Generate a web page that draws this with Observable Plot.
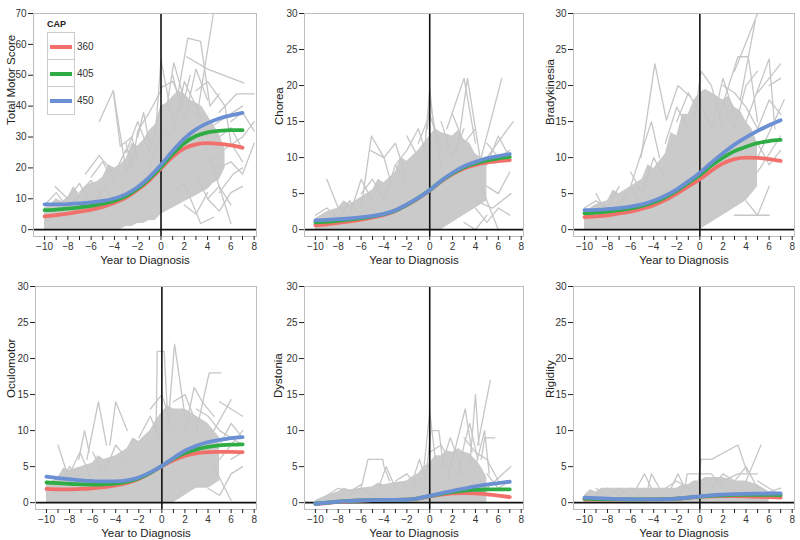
<!DOCTYPE html>
<html><head><meta charset="utf-8">
<script src="https://cdn.jsdelivr.net/npm/d3@7"></script>
<script src="https://cdn.jsdelivr.net/npm/@observablehq/plot@0.6"></script>
<style>
body{margin:0;background:#fff;}
#wrap{position:relative;width:800px;height:540px;overflow:hidden;font-family:"Liberation Sans",Arial,sans-serif;}
.panel{position:absolute;}
#legTitle{position:absolute;left:47px;top:19px;font-weight:bold;font-size:9px;color:#222;}
#legend{position:absolute;left:47px;top:32px;width:28px;height:83px;border:1px solid #ccc;background:#fff;box-sizing:border-box;}
.legcell{position:absolute;left:0;width:26px;height:27px;border-bottom:1px solid #ccc;box-sizing:border-box;}
.legcell:last-child{border-bottom:none;}
.legline{position:absolute;left:2px;top:12px;width:22px;height:4px;}
.leglab{position:absolute;left:77px;font-size:10px;color:#333;}
</style></head>
<body><div id="wrap"></div>
<script>
// ---------- data ----------
const capLevels = ["360", "405", "450"];
const capColors = ["#f2706b", "#2fad44", "#6a8fd3"];
const fitYears = [-10,-9,-8,-7,-6,-5,-4,-3,-2,-1,0,1,2,3,4,5,6,7];

const tms360 = [4.3,4.7,5.2,5.8,6.5,7.4,8.7,10.4,12.9,16.0,19.8,23.6,26.3,27.6,28.0,27.8,27.3,26.6];
const tms405 = [6.3,6.5,6.8,7.2,7.7,8.4,9.4,10.9,13.3,16.5,20.3,24.5,28.0,30.3,31.5,32.0,32.2,32.2];
const tms450 = [8.2,8.2,8.3,8.5,8.8,9.3,10.1,11.5,13.8,17.0,21.0,25.5,29.5,32.5,34.5,36.0,37.0,37.8];

const chorea360 = [0.6,0.75,0.95,1.15,1.4,1.7,2.05,2.6,3.4,4.35,5.45,6.7,7.7,8.5,9.0,9.3,9.5,9.65];
const chorea405 = [1.0,1.1,1.25,1.4,1.6,1.85,2.15,2.65,3.45,4.4,5.5,6.75,7.8,8.65,9.2,9.6,9.9,10.1];
const chorea450 = [1.3,1.35,1.45,1.55,1.7,1.9,2.2,2.7,3.5,4.4,5.5,6.8,7.9,8.8,9.4,9.9,10.2,10.5];

const brady360 = [1.75,1.85,2.0,2.25,2.5,2.9,3.4,4.1,5.0,6.0,7.0,8.2,9.2,9.8,10.0,9.95,9.8,9.55];
const brady405 = [2.25,2.35,2.5,2.7,2.95,3.3,3.8,4.5,5.4,6.5,7.6,8.9,10.0,10.9,11.5,12.0,12.3,12.45];
const brady450 = [2.7,2.75,2.85,3.0,3.2,3.5,4.0,4.7,5.6,6.7,7.9,9.3,10.6,11.8,12.8,13.7,14.5,15.2];

const ocul360 = [1.9,1.85,1.85,1.9,2.0,2.15,2.4,2.75,3.3,4.1,5.05,5.9,6.5,6.85,7.0,7.05,7.05,7.0];
const ocul405 = [2.8,2.7,2.6,2.55,2.5,2.55,2.65,2.9,3.4,4.15,5.1,6.1,6.9,7.4,7.75,7.95,8.05,8.1];
const ocul450 = [3.6,3.4,3.25,3.1,3.0,2.95,2.95,3.1,3.5,4.2,5.1,6.2,7.2,7.9,8.4,8.7,8.95,9.1];

const dyst360 = [-0.2,-0.05,0.12,0.23,0.3,0.35,0.37,0.38,0.4,0.58,0.88,1.12,1.28,1.33,1.28,1.15,0.98,0.78];
const dyst405 = [-0.15,0.0,0.15,0.25,0.32,0.36,0.38,0.38,0.4,0.6,0.92,1.22,1.48,1.66,1.78,1.83,1.85,1.85];
const dyst450 = [-0.15,0.0,0.15,0.25,0.32,0.36,0.38,0.38,0.4,0.6,0.95,1.3,1.65,1.95,2.25,2.5,2.7,2.9];

const rigid360 = [0.45,0.43,0.42,0.42,0.42,0.43,0.45,0.48,0.55,0.67,0.8,0.88,0.9,0.9,0.87,0.82,0.77,0.7];
const rigid405 = [0.55,0.5,0.47,0.45,0.44,0.44,0.45,0.48,0.55,0.68,0.84,0.96,1.03,1.07,1.08,1.08,1.07,1.05];
const rigid450 = [0.7,0.62,0.55,0.5,0.47,0.45,0.45,0.48,0.55,0.7,0.88,1.02,1.12,1.18,1.22,1.25,1.27,1.28];

// dense spaghetti region: [year, low, high]
const tmsBand = [[-10,0,7],[-9.5,0,8],[-9,0,10],[-8.5,0,9],[-8,0,10.5],[-7.5,0,14],[-7,0,11.5],[-6.5,0,14],[-6,0,15],[-5.5,0,15.5],[-5,0,17],[-4.5,0,21],[-4,0,20],[-3.5,0,21],[-3,1,23],[-2.5,1,28],[-2,2,27],[-1.5,2,29],[-1,3,32],[-0.5,3,34],[0,5,40],[0.5,6,41],[1,7,43],[1.5,8,45],[2,9,44],[2.5,10,42],[3,11,41],[3.5,12,40],[4,13,37],[4.5,15,34],[5,16,31],[5.5,20,26]];
const choreaBand = [[-10,0,1.5],[-9,0,2.5],[-8,0,3],[-7.5,0,4],[-7,0,3.5],[-6,0,4.5],[-5,0,5.5],[-4.5,0,7],[-4,0,6.5],[-3,0,8],[-2.5,0,10],[-2,0,9.5],[-1,0,11],[-0.5,0,12],[0,0,13],[0.5,0,14],[1,0,13.5],[2,1,13],[2.5,1.5,13.8],[3,2,12.5],[3.5,2.5,12],[4,3,10.5],[4.5,3.5,10],[5,4,9]];
const bradyBand = [[-10,0,2.5],[-9,0,3.5],[-8,0,4],[-7.5,0,5.5],[-7,0,5],[-6,0,6],[-5,0,7],[-4.5,0,9],[-4,0,8.5],[-3,0,10.5],[-2.5,0,13.5],[-2,0,13],[-1.5,0,16],[-1,0,16],[-0.5,0,18],[0,0,19],[0.5,0.5,19.5],[1,1,19],[2,2,18],[2.5,2.5,18.5],[3,3,17],[3.5,3.5,16.5],[4,4,15],[4.5,5,14],[5,6,12]];
const oculBand = [[-10,0,2.5],[-9,0,3.5],[-8.5,0,4.8],[-8,0,4.5],[-7,0,5],[-6,0,5.5],[-5.5,0,6.5],[-5,0,6],[-4,0,6.5],[-3,0,7.5],[-2.5,0,9],[-2,0,8.5],[-1,0,10],[-0.5,0,11.5],[0,0,12.5],[0.5,0,13.5],[1,0,13],[2,1,13],[2.5,1.5,12.5],[3,2,12],[4,2,11],[4.5,2.5,10],[5,3,9]];
const dystBand = [[-10,0,0.3],[-9,0,1],[-8,0,1.5],[-7.5,0,2],[-7,0,1.8],[-6,0,2],[-5,0,2.2],[-4.5,0,2.7],[-4,0,2.5],[-3,0,2.8],[-2,0,3],[-1.5,0,3.6],[-1,0,4],[-0.5,0,5],[0,0,5.5],[0.5,0,6.5],[1,0,6.5],[1.5,0,7.2],[2,0,7],[2.5,0,7.5],[3,0,7],[3.5,0,6.8],[4,0,6],[4.5,0,5],[5,0,3.5]];
const rigidBand = [[-10,0,1],[-9.5,0,1.8],[-9,0,1.5],[-8.5,0,2],[-8,0,2],[-7,0,2],[-6,0,2],[-5,0,2],[-4,0,2],[-3,0,2],[-2,0,2],[-1.5,0,2.5],[-1,0,2.5],[-0.5,0,3],[0,0,3],[0.5,0,3.5],[1,0,3.5],[2,0,3.5],[3,0,3],[4,0,3],[5,0,2.5],[6,0,1.5]];

// individual subject trajectories: [year, score] pairs
const tmsTraces = [
 [[-5.3,35],[-4.1,45],[-3,19],[-2.4,24]],
 [[-4.1,45],[-3.5,27],[-2.5,30],[-2,22]],
 [[-9.1,14],[-8,10],[-7,15],[-6,8],[-5,12]],
 [[-6.5,18],[-5.3,24],[-4,18],[-3,26]],
 [[-8,3],[-7,8],[-6,5],[-5,14],[-4,9]],
 [[3.1,37],[4.5,70]],
 [[1.5,45],[2.3,62],[3.4,61],[4.2,40],[5,44]],
 [[-0.5,30],[0,55],[1,35],[1.5,40]],
 [[0.5,40],[1.1,54],[2,42],[2.5,50]],
 [[2.2,56],[4,52],[7.1,47.5]],
 [[5,38],[6.5,44],[8,44]],
 [[3.5,30],[4.5,20],[6,2]],
 [[1,12],[2,15],[3.4,2],[4.5,4]],
 [[4,22],[5,25],[7,30],[8,35]],
 [[3,45],[4,48],[5.5,40],[6,28],[7,22]],
 [[-2,30],[-1.5,38],[-1,28]],
 [[-3,25],[-2,35],[-1,25],[0,40]],
 [[-1,20],[0,32],[1,30],[2,48],[3,40],[4,30]],
 [[3,30],[5,35],[7,40]],
 [[5,12],[6.2,18],[7,20]],
 [[4,10],[5,6],[6,12],[7,14]],
 [[1,50],[2,35],[3,52],[4,42]],
 [[-7,12],[-6,16],[-5,10]],
 [[-10,2],[-9,6],[-8,4]],
 [[5,30],[6,33],[7,26]],
 [[-10,8],[-9,12],[-8,7],[-7,11]],
 [[-6,17],[-5,22],[-4,15]],
 [[-3,28],[-2.5,20],[-2,32],[-1,38],[0,45]],
 [[0,46],[1,48],[2,40]],
 [[3,18],[4,10],[5,14],[6,8]],
 [[2,8],[3,5],[4,12]],
 [[5,20],[6,22],[7,18],[8,28]],
 [[6,35],[7,38],[8,32]]
];
const choreaTraces = [
 [[-0.5,10],[0,19.5],[0.5,12]],
 [[-0.2,14],[0,18],[1,9]],
 [[1.5,14],[3,21],[4,12]],
 [[2.5,12],[3.3,21],[4.5,9]],
 [[4.5,10],[6.3,21]],
 [[5,10],[7.3,15]],
 [[5,6],[6,5],[7,8]],
 [[4,4],[5.5,3],[7.1,5]],
 [[4.5,6],[6,0]],
 [[-9,7],[-8,3],[-7,2]],
 [[-6,3],[-5.1,13],[-4,10],[-3,12],[-2,7]],
 [[-7,2],[-6,7],[-5,4]],
 [[-5.2,11],[-4,10],[-3.3,6]],
 [[-2,13],[-1,10],[0,12]],
 [[1,15],[2,10],[3,14]],
 [[-3,9],[-2,11],[-1,14],[0,9]],
 [[5,12],[6,10],[7,11]],
 [[-8,1],[-7,4],[-6,2]],
 [[-10,2],[-9,3],[-8,1.5],[-7,4]],
 [[-6,5],[-5,7],[-4,4],[-3,9],[-2,6]],
 [[-1,12],[0,16],[1,11]],
 [[2,16],[3,12],[4,14]],
 [[4,3],[5,1],[6,3],[7,2]],
 [[5,9],[6,13],[7,10]],
 [[3,1],[4,0],[5,2]]
];
const bradyTraces = [
 [[-5.1,10],[-3.9,23],[-2.9,15.2],[-1.9,20],[-0.8,18.4]],
 [[-0.5,15],[0.1,22],[1,20],[2,14]],
 [[3,22],[5,30]],
 [[3.5,18],[4.8,29]],
 [[5,19],[7,23]],
 [[5,10],[7.3,18]],
 [[4,15],[6,23.7],[6.5,14]],
 [[3,2],[6,2]],
 [[5,8],[7,13]],
 [[-9,5],[-8,2],[-7,4]],
 [[-6,6],[-4.2,15],[-3.5,10]],
 [[1.5,15],[3.3,24],[4.2,24],[5,15]],
 [[-3,12],[-2,17],[-1,14]],
 [[2,18],[3,14],[4,20],[5,22]],
 [[-8,1],[-6,6],[-5,3]],
 [[0,18],[1,14],[2,21],[3,16]],
 [[5,14],[6,18],[7,16]],
 [[-10,3],[-9,4],[-8,3],[-7,6]],
 [[-6,8],[-5,5],[-4,10],[-3,7]],
 [[-2,15],[-1,19],[0,16]],
 [[2,20],[3,19],[4,17],[5,14]],
 [[4,4],[5,2],[6,6]],
 [[5,12],[6,9],[7,11]],
 [[6,20],[7,21]]
];
const oculTraces = [
 [[-0.5,10],[-0.4,21],[0.2,21],[0.5,12]],
 [[0.5,10],[1.1,22],[2,12]],
 [[3,10],[4.1,18],[5.1,18]],
 [[-6.5,6],[-5.5,14],[-4.8,8]],
 [[-4.5,8],[-4,14],[-3,10]],
 [[-7.2,6],[-6.7,10],[-6.3,7]],
 [[-9,8],[-8,3],[-7,4]],
 [[5,14],[7,12]],
 [[5,6],[7,10]],
 [[4.5,5],[6,0.3]],
 [[2,10],[2.8,16],[3.5,14],[4.5,12]],
 [[4.5,10],[6,14.3]],
 [[-8,4],[-7.1,7],[-6,3]],
 [[-2,9],[-1,12],[0,8]],
 [[1,14],[2,15],[3,11]],
 [[5,8],[6,11],[7,9]],
 [[-10,3],[-9,2],[-8,5],[-7,3]],
 [[-6,7],[-5,4],[-4,8],[-3,6]],
 [[-1,13],[0,15],[1,10]],
 [[3,13],[4,12],[5,10],[6,9],[7,8]],
 [[4,2],[5,1],[6,4],[7,5]],
 [[6,6],[7,7]]
];
const dystTraces = [
 [[-0.5,5],[0,12.5],[0.5,6]],
 [[-0.3,4],[0.1,10],[0.8,10],[1.2,5]],
 [[2,6],[3.1,13],[3.7,7]],
 [[3.5,5],[4,15],[4.3,8]],
 [[4.2,8],[5.3,17]],
 [[4.5,6],[4.8,9],[5.7,9]],
 [[4,5],[4.8,10],[5.2,4]],
 [[5,2],[7.1,5]],
 [[-6,2],[-5.4,6],[-4.1,6],[-4,5],[-3.5,3]],
 [[-4.5,2],[-3.8,5],[-3,2]],
 [[1,5],[1.8,9],[2.5,6]],
 [[-1.5,3],[-0.9,6],[-0.3,3]],
 [[2.5,4],[3,8],[3.5,11],[4.2,6]],
 [[1.5,3],[2.2,7.5],[2.8,4]],
 [[-7,1],[-6,2],[-5,1]],
 [[-9,1],[-8,2],[-7,1.5],[-6,2.5]],
 [[-3,3],[-2,4],[-1,2]],
 [[0,7],[1,8],[2,5]],
 [[3,9],[4,7],[5,6],[6,3]],
 [[5,4],[6,2],[7,3]]
];
const rigidTraces = [
 [[-0.2,2],[0.1,6],[1,6],[3.3,8],[4.1,4.2]],
 [[4,3],[5.3,8]],
 [[-5.5,2],[-4.8,4],[-4.2,2]],
 [[-4.5,2],[-4.2,4],[-3.5,2]],
 [[-2.5,2],[-1.9,4],[-1.3,2]],
 [[-1.3,2],[-1.1,4],[0,4],[1,4],[2,2]],
 [[2,3],[3.3,4],[5,4]],
 [[5,1],[7,2]],
 [[-9,2],[-8,1],[-7,2],[-6,1]],
 [[-9,1],[-8,2],[-7,1],[-6,2]],
 [[1,2],[2,4],[3,3],[4,5],[5,2]],
 [[-8,2],[-7,1],[-6,2],[-5,1]],
 [[-3,2],[-2,3],[-1,2]],
 [[5,3],[6,2],[7,1]]
];

const xTicks = [-10,-9,-8,-7,-6,-5,-4,-3,-2,-1,0,1,2,3,4,5,6,7,8];
const xLabel = "Year to Diagnosis";

// ---------- drawing ----------
const FONT = '"Liberation Sans", Arial, Helvetica, sans-serif';
const wrap = document.getElementById("wrap");

function drawPanel(p) {
  const traceRows = p.traces.flatMap((tr, i) => tr.map(([t, v]) => ({id: i, t, v})));
  const fitRows = p.fits.flatMap((arr, k) => arr.map((v, i) => ({cap: capLevels[k], t: fitYears[i], v})));
  const bandRows = p.band.map(([t, lo, hi]) => ({t, lo, hi}));
  const yTicks = d3.range(0, p.yMax + 0.001, p.yStep);
  const fmt = d => (d % 2 === 0 ? (d < 0 ? "\u2212" + Math.abs(d) : String(d)) : "");
  const chart = Plot.plot({
    width: p.width, height: 270,
    marginLeft: p.mL, marginRight: p.mR, marginTop: p.mT, marginBottom: p.mB,
    style: {fontFamily: FONT, fontSize: "10px", color: "#333", background: "transparent"},
    x: {domain: [-10.95, 8.2]},
    y: {domain: [-0.95 * p.yMax / 30, p.yMax]},
    color: {domain: capLevels, range: capColors},
    marks: [
      Plot.areaY(bandRows, {x: "t", y1: "lo", y2: "hi", fill: "#cacaca"}),
      Plot.line(traceRows, {x: "t", y: "v", z: "id", stroke: "#c6c6c6", strokeWidth: 1.3}),
      Plot.ruleY([0], {stroke: "#111", strokeWidth: 1.6}),
      Plot.ruleX([0], {stroke: "#111", strokeWidth: 1.6}),
      Plot.line(fitRows, {x: "t", y: "v", z: "cap", stroke: "cap", strokeWidth: 3.8, curve: "monotone-x"}),
      Plot.frame({stroke: "#bdbdbd", strokeWidth: 1}),
      Plot.axisX({ticks: xTicks, tickFormat: fmt, tickSize: 4, tickPadding: 2, label: null, stroke: "#222"}),
      Plot.axisY({ticks: yTicks, tickSize: 5, tickPadding: 2, label: null, stroke: "#222"}),
      Plot.text([p.yLabel], {frameAnchor: "left", rotate: -90, dx: p.yLabDx, fontSize: 11.5, fill: "#222", lineAnchor: "middle"}),
      Plot.text([xLabel], {frameAnchor: "bottom", dy: 23.5, fontSize: 11.5, fill: "#222", lineAnchor: "middle"})
    ]
  });
  chart.classList.add("panel");
  chart.style.left = p.left + "px";
  chart.style.top = p.top + "px";
  wrap.appendChild(chart);
}

const top1 = {top: 0, mT: 13, mB: 34};
const top2 = {top: 270, mT: 16, mB: 31};
drawPanel({...top1, left: 0, width: 265, mL: 33, mR: 9, yMax: 70, yStep: 10, yLabel: "Total Motor Score", yLabDx: -22, band: tmsBand, traces: tmsTraces, fits: [tms360, tms405, tms450]});
drawPanel({...top1, left: 265, width: 265, mL: 39, mR: 7, yMax: 30, yStep: 5, yLabel: "Chorea", yLabDx: -25, band: choreaBand, traces: choreaTraces, fits: [chorea360, chorea405, chorea450]});
drawPanel({...top1, left: 530, width: 270, mL: 43, mR: 6, yMax: 30, yStep: 5, yLabel: "Bradykinesia", yLabDx: -23, band: bradyBand, traces: bradyTraces, fits: [brady360, brady405, brady450]});
drawPanel({...top2, left: 0, width: 265, mL: 35, mR: 9, yMax: 30, yStep: 5, yLabel: "Oculomotor", yLabDx: -24, band: oculBand, traces: oculTraces, fits: [ocul360, ocul405, ocul450]});
drawPanel({...top2, left: 265, width: 265, mL: 39, mR: 7, yMax: 30, yStep: 5, yLabel: "Dystonia", yLabDx: -26, band: dystBand, traces: dystTraces, fits: [dyst360, dyst405, dyst450]});
drawPanel({...top2, left: 530, width: 270, mL: 43, mR: 6, yMax: 30, yStep: 5, yLabel: "Rigidity", yLabDx: -23, band: rigidBand, traces: rigidTraces, fits: [rigid360, rigid405, rigid450]});

// legend (HTML overlay in the first panel)
const lt = document.createElement("div"); lt.id = "legTitle"; lt.textContent = "CAP"; wrap.appendChild(lt);
const leg = document.createElement("div"); leg.id = "legend"; wrap.appendChild(leg);
capLevels.forEach((c, i) => {
  const cell = document.createElement("div"); cell.className = "legcell"; cell.style.top = (i * 27) + "px";
  const ln = document.createElement("div"); ln.className = "legline"; ln.style.background = capColors[i];
  cell.appendChild(ln); leg.appendChild(cell);
  const lab = document.createElement("div"); lab.className = "leglab"; lab.textContent = c;
  lab.style.top = (41 + i * 27) + "px"; wrap.appendChild(lab);
});
</script>
</body></html>
